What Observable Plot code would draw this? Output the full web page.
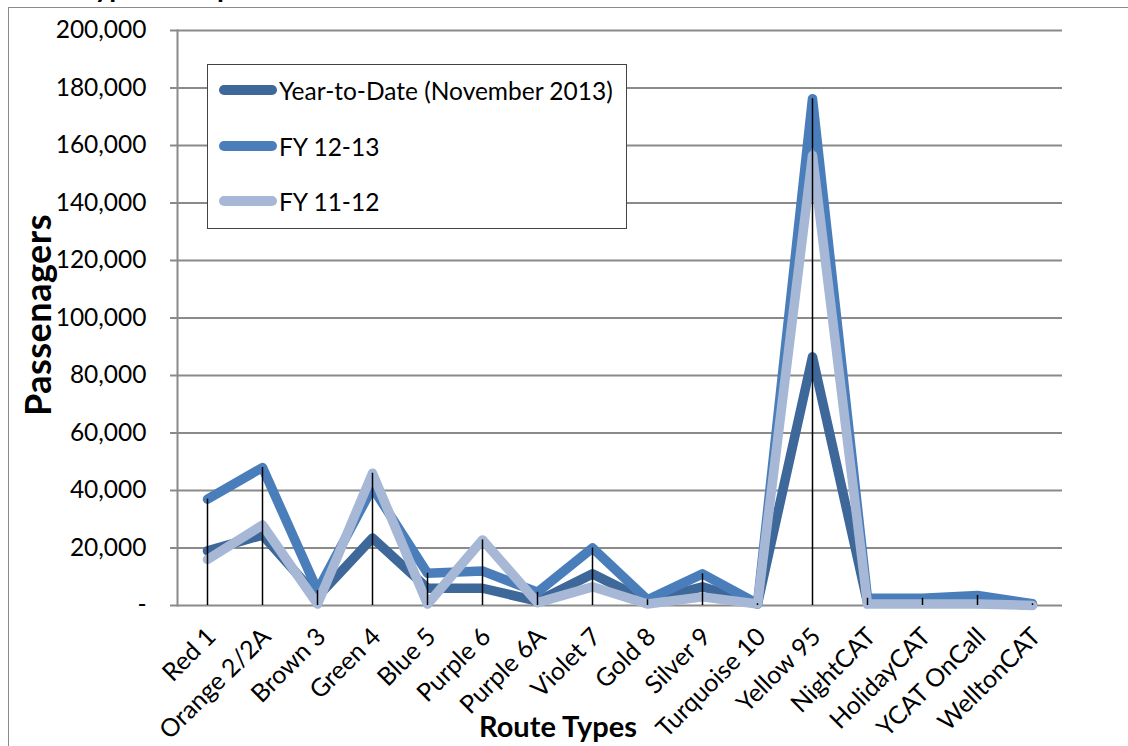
<!DOCTYPE html>
<html>
<head>
<meta charset="utf-8">
<script src="https://cdn.jsdelivr.net/npm/d3@7"></script>
<script src="https://cdn.jsdelivr.net/npm/@observablehq/plot@0.6"></script>
<style>
  html, body { margin: 0; padding: 0; background: #fff; overflow: hidden; }
  #wrap { position: relative; width: 1128px; height: 746px; overflow: hidden; font-family: Lato, "Open Sans", sans-serif; }
  #border { position: absolute; left: 8px; top: 7px; width: 1300px; height: 900px; border: 1px solid #8a8a8a; box-sizing: border-box; }
  #title { position: absolute; left: 0px; top: -31px; font: bold 28px Lato, sans-serif; color: #000; white-space: nowrap; }
  #chart { position: absolute; left: 0; top: 0; }
  #ytitle { position: absolute; left: 37px; top: 315px; font: bold 36px Lato, sans-serif; letter-spacing: 0.5px; transform: translate(-50%, -50%) rotate(-90deg); white-space: nowrap; line-height: 1; }
  #xtitle { position: absolute; left: 558px; top: 708px; font: bold 29px Lato, sans-serif; transform: translateX(-50%); white-space: nowrap; }
  #legend { position: absolute; left: 207px; top: 64px; width: 420px; height: 165px; border: 1px solid #444; background: #fff; box-sizing: border-box; }
  .lrow { position: absolute; left: 10px; height: 30px; display: flex; align-items: center; font: 24.5px Lato, sans-serif; color: #000; white-space: nowrap; }
  .lrow svg { display: block; margin-right: 1px; }
</style>
</head>
<body>
<div id="wrap">
  <div id="border"></div>
  <div id="title">Route Types Comparison</div>
  <div id="chart"></div>
  <div id="ytitle">Passenagers</div>
  <div id="xtitle">Route Types</div>
  <div id="legend"></div>
</div>
<script>
const categories = ["Red 1","Orange 2/2A","Brown 3","Green 4","Blue 5","Purple 6","Purple 6A","Violet 7","Gold 8","Silver 9","Turquoise 10","Yellow 95","NightCAT","HolidayCAT","YCAT OnCall","WelltonCAT"];
const seriesNames = ["Year-to-Date (November 2013)", "FY 12-13", "FY 11-12"];
const seriesColors = ["#3d6899", "#4a7ebb", "#a6b8d6"];
const ytd    = [19000, 24500, 3000, 23500, 6000, 6000, 1500, 11000, 1500, 6500, 500, 86500, 1000, 1000, 1000, 200];
const fy1213 = [37000, 48000, 5200, 41000, 11200, 12000, 4600, 20000, 2000, 11000, 600, 176300, 2500, 2500, 3500, 600];
const fy1112 = [16000, 28000, 500, 46000, 500, 22800, 1000, 6500, 500, 3000, 500, 156500, 500, 500, 500, 0];
const yTicks = [0, 20000, 40000, 60000, 80000, 100000, 120000, 140000, 160000, 180000, 200000];

const seriesValues = [ytd, fy1213, fy1112];
const rows = [];
seriesNames.forEach((s, si) => {
  categories.forEach((c, ci) => rows.push({series: s, route: c, value: seriesValues[si][ci]}));
});
const maxRows = categories.map((c, ci) => ({route: c, value: d3.max(seriesValues, v => v[ci])}));
const fmt = d3.format(",");

const chart = Plot.plot({
  width: 1128,
  height: 746,
  marginLeft: 177,
  marginRight: 66,
  marginTop: 30,
  marginBottom: 141,
  style: { fontFamily: "Lato, sans-serif", fontSize: "22px", background: "transparent", overflow: "visible" },
  x: { type: "point", domain: categories, padding: 0.5, label: null },
  y: { domain: [0, 200000], label: null },
  color: { domain: seriesNames, range: seriesColors },
  marks: [
    Plot.gridY(yTicks, { stroke: "#8a8a8a", strokeOpacity: 1, strokeWidth: 2 }),
    Plot.frame({ anchor: "left", stroke: "#8a8a8a", strokeWidth: 2 }),
    Plot.axisY(yTicks, { tickSize: 7, tickPadding: 24, stroke: "#8a8a8a", strokeWidth: 2, fill: "#000", fontSize: 24.5, tickFormat: d => d === 0 ? "-" : fmt(d), label: null }),
    Plot.axisX({ tickSize: 0, tickPadding: 27, tickRotate: -45, fontSize: 25, fill: "#000", dx: 4, label: null }),
    Plot.line(rows, { x: "route", y: "value", z: "series", stroke: "series", strokeWidth: 9.5, strokeLinecap: "round", strokeLinejoin: "round" }),
    Plot.ruleX(maxRows, { x: "route", y1: 0, y2: "value", stroke: "#000", strokeWidth: 1.5 })
  ]
});
document.getElementById("chart").appendChild(chart);

const legend = document.getElementById("legend");
const rowTops = [10, 66, 121];
seriesNames.forEach((s, i) => {
  const r = document.createElement("div");
  r.className = "lrow";
  r.style.top = rowTops[i] + "px";
  r.innerHTML = `<svg width="60" height="14"><line x1="6" y1="7" x2="54" y2="7" stroke="${seriesColors[i]}" stroke-width="10" stroke-linecap="round"/></svg><span>${s}</span>`;
  legend.appendChild(r);
});
</script>
</body>
</html>
